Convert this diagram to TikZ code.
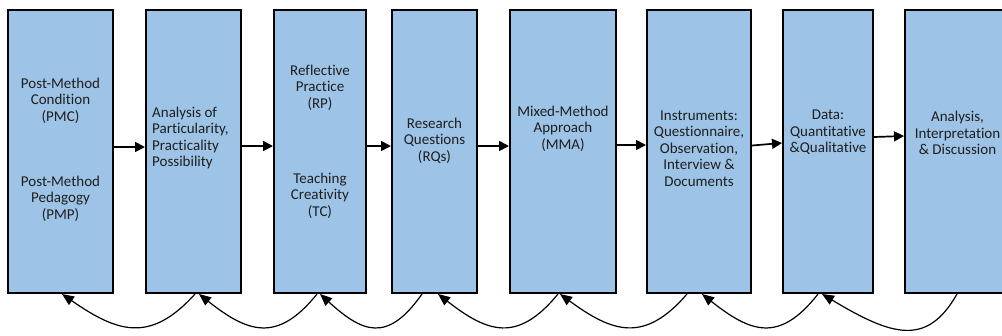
\documentclass[tikz,border=0pt]{standalone}
\usepackage{fontspec}
\setmainfont{Carlito}[Ligatures=NoCommon]
\usetikzlibrary{arrows.meta}
\definecolor{boxblue}{HTML}{9DC3E6}
\definecolor{txt}{HTML}{1F1F1F}
\begin{document}
\begin{tikzpicture}[x=1pt,y=1pt,
  box/.style={draw=black, line width=2pt, fill=boxblue, inner sep=0pt, minimum height=283pt},
  lbl/.style={font=\fontsize{15}{16.5}\selectfont, text=txt, inner sep=0pt, align=center, anchor=base},
  harrow/.style={line width=1.7pt, -{Triangle[length=10pt,width=10pt]}},
  carrow/.style={line width=1.2pt, -{Triangle[length=12pt,width=10pt]}}]
\useasboundingbox (0,0) rectangle (1002,-335);
\begin{scope}
\clip (0,0) rectangle (1002,-335);
\node[box, minimum width=105pt] (b1) at (60.5,-151.5) {};
\node[box, minimum width=95pt]  (b2) at (193.5,-151.5) {};
\node[box, minimum width=92pt]  (b3) at (320,-151.5) {};
\node[box, minimum width=85pt]  (b4) at (434.5,-151.5) {};
\node[box, minimum width=106pt] (b5) at (563,-151.5) {};
\node[box, minimum width=104pt] (b6) at (699,-151.5) {};
\node[box, minimum width=90pt]  (b7) at (828,-151.5) {};
\node[box, minimum width=105pt] (b8) at (957.5,-151.5) {};

\node[lbl] (t1a) at (60.5,-121) {Post-Method\\Condition\\(PMC)};
\node[lbl] (t1b) at (60.5,-219) {Post-Method\\Pedagogy\\(PMP)};
\node[lbl, anchor=base west, align=left] (t2) at (152,-166.5) {Analysis of\\Particularity,\\Practicality\\Possibility};
\node[lbl] (t3a) at (320,-108) {Reflective\\Practice\\(RP)};
\node[lbl] (t3b) at (320,-216) {Teaching\\Creativity\\(TC)};
\node[lbl] (t4) at (434.5,-161) {Research\\Questions\\(RQs)};
\node[lbl] (t5) at (563,-149) {Mixed-Method\\Approach\\(MMA)};
\node[lbl] (t6) at (699,-186) {Instruments:\\Questionnaire,\\Observation,\\Interview \&\\Documents};
\node[lbl] (t7) at (828,-152.5) {Data:\\Quantitative\\\&Qualitative};
\node[lbl] (t8) at (957.5,-154.5) {Analysis,\\Interpretation\\\& Discussion};
\end{scope}

\draw[harrow] ([yshift=4.5pt]b1.east) -- ([yshift=4.5pt]b2.west);
\draw[harrow] ([yshift=5.5pt]b2.east) -- ([yshift=5.5pt]b3.west);
\draw[harrow] ([yshift=5.5pt]b3.east) -- ([yshift=5.5pt]b4.west);
\draw[harrow] ([yshift=5.5pt]b4.east) -- ([yshift=5.5pt]b5.west);
\draw[harrow] ([yshift=6.5pt]b5.east) -- ([yshift=6.5pt]b6.west);
\draw[harrow] ([yshift=6pt]b6.east) -- ([yshift=8.5pt]b7.west);
\draw[harrow] ([yshift=14.5pt]b7.east) -- ([yshift=15.5pt]b8.west);

\draw[carrow] ([xshift=1.5pt]b2.south) .. controls +(-45,-50) and +(55,-38) .. ([xshift=1.5pt]b1.south);
\draw[carrow] ([xshift=-3pt]b3.south) .. controls +(-40,-50) and +(48,-38) .. ([xshift=5.5pt]b2.south);
\draw[carrow] ([xshift=-12.5pt]b4.south) .. controls +(-35,-50) and +(42,-38) .. (b3.south);
\draw[carrow] ([xshift=-5pt]b5.south) .. controls +(-41,-50) and +(49,-38) .. ([xshift=3.5pt]b4.south);
\draw[carrow] ([xshift=-12pt]b6.south) .. controls +(-43,-50) and +(52,-38) .. ([xshift=-3pt]b5.south);
\draw[carrow] ([xshift=-10pt]b7.south) .. controls +(-39,-50) and +(48,-38) .. ([xshift=3pt]b6.south);
\draw[carrow] ([xshift=-0.5pt]b8.south) .. controls +(-30,-53) and +(70,-42) .. ([xshift=-6pt]b7.south);
\end{tikzpicture}
\end{document}
